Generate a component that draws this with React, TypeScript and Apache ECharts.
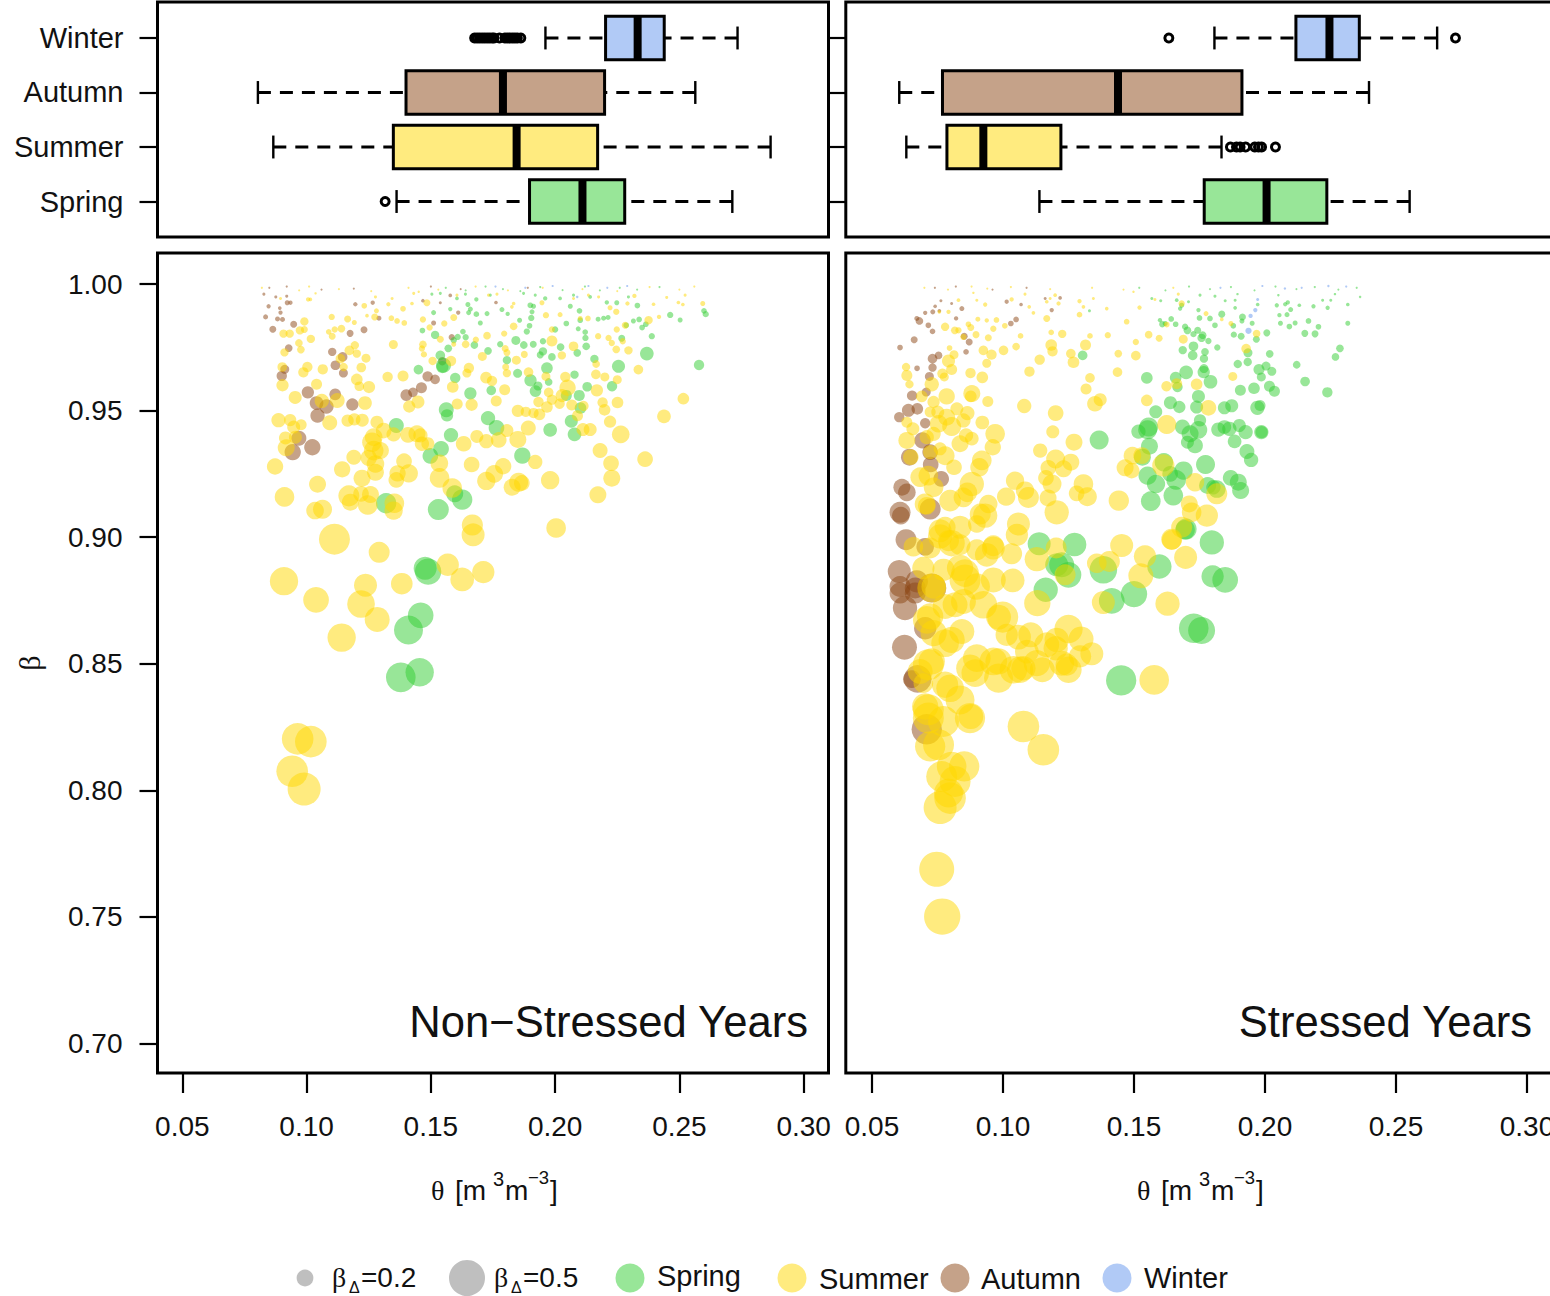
import React, { useEffect, useRef } from "react";
import * as echarts from "echarts";

type Pt = [number, number, number];

const seasons = ["Spring", "Summer", "Autumn", "Winter"];
const thetaTicks = [0.05, 0.1, 0.15, 0.2, 0.25, 0.3];
const betaTicks = [0.7, 0.75, 0.8, 0.85, 0.9, 0.95, 1.0];
const seasonPositions = [1, 2, 3, 4];

// box statistics: position, low whisker, q1, median, q3, high whisker
const leftBoxes = [
  [1, 0.1362, 0.1897, 0.211, 0.228, 0.2713],
  [2, 0.0866, 0.1349, 0.1845, 0.2171, 0.2867],
  [3, 0.0804, 0.14, 0.179, 0.2199, 0.2564],
  [4, 0.1961, 0.2203, 0.2332, 0.2439, 0.2734],
];
const rightBoxes = [
  [1, 0.1139, 0.1768, 0.2006, 0.2236, 0.2552],
  [2, 0.0631, 0.0786, 0.0925, 0.1221, 0.1834],
  [3, 0.0604, 0.0769, 0.1439, 0.1912, 0.2397],
  [4, 0.1807, 0.2118, 0.2246, 0.236, 0.2657],
];
const leftOutliers = [
  [0.1316, 1],
  [0.1676, 4], [0.1686, 4], [0.1696, 4], [0.1706, 4], [0.1716, 4], [0.1726, 4], [0.1736, 4], [0.1746, 4], [0.1754, 4],
  [0.1776, 4], [0.1798, 4], [0.1808, 4], [0.1818, 4], [0.1828, 4], [0.1838, 4], [0.1848, 4], [0.1862, 4],
];
const rightOutliers = [
  [0.1633, 4], [0.2727, 4],
  [0.1868, 2], [0.1891, 2], [0.1905, 2], [0.1926, 2], [0.1961, 2], [0.1975, 2], [0.1987, 2], [0.204, 2],
];

const leftAutumn: Pt[] = [
  [0.0835,0.987,0.056],[0.0864,0.9821,0.083],[0.09,0.9637,0.13],[0.0912,0.9663,0.111],[0.1005,0.9572,0.157],[0.104,0.953,0.176],
  [0.1044,0.948,0.185],[0.108,0.9516,0.185],[0.1115,0.9564,0.148],[0.1184,0.9524,0.157],[0.0969,0.9391,0.194],[0.1023,0.9355,0.213],
  [0.0944,0.9336,0.213],[0.0928,0.9747,0.093],[0.0948,0.9841,0.083],[0.0883,0.9862,0.056],[0.0903,0.986,0.056],[0.0895,0.9887,0.046],
  [0.0892,0.9905,0.037],[0.0847,0.9912,0.046],[0.0922,0.9926,0.056],[0.0935,0.9926,0.046],[0.0876,0.9949,0.028],[0.092,0.9952,0.028],
  [0.0828,0.996,0.028],[0.1103,0.9732,0.102],[0.1116,0.9679,0.12],[0.1145,0.9712,0.12],[0.1148,0.9648,0.111],[0.1175,0.9805,0.083],
  [0.1231,0.9819,0.083],[0.1291,0.9865,0.056],[0.1196,0.992,0.046],[0.1266,0.9926,0.046],[0.1401,0.9561,0.148],[0.1428,0.9572,0.12],
  [0.1462,0.959,0.139],[0.1487,0.9635,0.13],[0.1517,0.9623,0.12],[0.1546,0.9695,0.102],[0.1511,0.9846,0.056],[0.1584,0.979,0.074],
  [0.161,0.9887,0.046],[0.1578,0.9955,0.037],[0.1468,0.9934,0.037],[0.1538,0.9926,0.028],[0.1762,0.9927,0.037],
  [0.085,0.9985,0.016],[0.092,0.999,0.016],[0.106,0.9978,0.016],[0.119,0.9982,0.016],[0.15,0.999,0.016],[0.162,0.998,0.016],[0.189,0.9985,0.016],
];
const leftSpring: Pt[] = [
  [0.1477,0.8877,0.306],[0.1489,0.8864,0.352],[0.1459,0.8691,0.343],[0.141,0.8633,0.389],[0.1379,0.8446,0.398],[0.1455,0.8466,0.38],
  [0.145,0.9662,0.12],[0.1466,0.9816,0.065],[0.1517,0.9799,0.102],[0.1538,0.9718,0.12],[0.1551,0.9679,0.194],[0.1546,0.9672,0.157],
  [0.157,0.9746,0.093],[0.1592,0.9778,0.074],[0.1608,0.9791,0.074],[0.1629,0.9812,0.065],[0.164,0.979,0.074],[0.1675,0.9759,0.093],
  [0.1598,0.9629,0.13],[0.1659,0.9568,0.157],[0.1562,0.9503,0.194],[0.1565,0.9481,0.157],[0.173,0.9736,0.093],[0.1743,0.958,0.12],
  [0.173,0.947,0.185],[0.1764,0.9432,0.204],[0.1361,0.9441,0.194],[0.1581,0.9403,0.185],[0.1541,0.9349,0.204],[0.1498,0.9321,0.204],
  [0.1868,0.9322,0.213],[0.1596,0.9171,0.222],[0.1626,0.9148,0.269],[0.153,0.9109,0.278],[0.132,0.9134,0.269],[0.198,0.9424,0.176],
  [0.2078,0.9406,0.176],[0.2065,0.9458,0.167],[0.2102,0.951,0.148],[0.2097,0.956,0.139],[0.2045,0.956,0.139],[0.2129,0.9594,0.12],
  [0.2078,0.9642,0.102],[0.2229,0.9596,0.13],[0.2255,0.9675,0.167],[0.2158,0.9704,0.102],[0.2369,0.9725,0.176],[0.2579,0.968,0.13],
  [0.2125,0.9754,0.093],[0.2089,0.9728,0.093],[0.2122,0.9787,0.074],[0.2121,0.981,0.065],[0.2268,0.9786,0.083],[0.2389,0.9794,0.074],
  [0.2463,0.9878,0.074],[0.2503,0.9858,0.056],[0.2599,0.9894,0.065],[0.2606,0.9881,0.074],[0.2315,0.9854,0.056],[0.235,0.9828,0.065],
  [0.2365,0.9841,0.065],[0.2338,0.986,0.065],[0.2331,0.9915,0.065],[0.2213,0.9868,0.056],[0.2195,0.9865,0.056],[0.2173,0.9861,0.056],
  [0.2286,0.9837,0.065],[0.2101,0.9857,0.065],[0.2093,0.9823,0.056],[0.2208,0.9927,0.046],[0.2248,0.9926,0.056],[0.2141,0.9949,0.037],
  [0.2295,0.9949,0.028],[0.2045,0.9844,0.065],[0.2,0.982,0.074],[0.2022,0.9751,0.093],[0.1987,0.9712,0.093],[0.1951,0.9734,0.102],
  [0.194,0.972,0.083],[0.1967,0.9668,0.148],[0.1974,0.9613,0.093],[0.1901,0.9619,0.157],[0.1931,0.9597,0.111],[0.1921,0.9577,0.148],
  [0.1912,0.9762,0.083],[0.1874,0.9759,0.093],[0.1842,0.9777,0.111],[0.1886,0.9812,0.074],[0.1897,0.9835,0.065],[0.1857,0.9857,0.056],
  [0.1904,0.9866,0.074],[0.1907,0.989,0.056],[0.1951,0.9774,0.074],[0.1806,0.9699,0.102],[0.1849,0.9647,0.111],[0.1779,0.9762,0.074],
  [0.1809,0.9882,0.046],[0.1786,0.9899,0.056],[0.1726,0.9883,0.056],[0.1699,0.9846,0.056],[0.1683,0.9881,0.065],[0.1659,0.9901,0.056],
  [0.1652,0.9887,0.056],[0.1683,0.9939,0.046],[0.1649,0.9919,0.056],[0.1578,0.9901,0.046],[0.1511,0.9887,0.056],[0.1605,0.9943,0.037],
  [0.1538,0.9963,0.028],[0.1504,0.996,0.028],[0.1639,0.996,0.028],[0.1739,0.9956,0.028],[0.1873,0.9963,0.028],[0.192,0.9956,0.028],
  [0.196,0.9943,0.046],[0.202,0.9943,0.037],[0.2074,0.9956,0.028],[0.19,0.9916,0.065],[0.1913,0.9912,0.056],[0.2061,0.9912,0.056],
  [0.2098,0.9894,0.065],
  [0.156,0.9985,0.016],[0.164,0.9975,0.016],[0.172,0.999,0.016],[0.179,0.998,0.016],[0.186,0.9972,0.016],[0.194,0.9988,0.016],
  [0.203,0.9976,0.016],[0.212,0.999,0.016],[0.218,0.9975,0.016],[0.226,0.9985,0.016],[0.233,0.9978,0.016],[0.242,0.9988,0.016],
];
const leftSummer: Pt[] = [
  [0.1112,0.8992,0.417],[0.1292,0.894,0.278],[0.167,0.9009,0.306],[0.1667,0.9048,0.28],[0.1568,0.8891,0.296],[0.1626,0.8833,0.315],
  [0.1711,0.8862,0.296],[0.1383,0.8816,0.287],[0.0909,0.8826,0.38],[0.1038,0.8752,0.343],[0.1237,0.881,0.306],[0.1219,0.8736,0.37],
  [0.1284,0.8675,0.333],[0.1141,0.8603,0.38],[0.0964,0.8203,0.426],[0.1017,0.8192,0.426],[0.0942,0.8075,0.426],[0.099,0.8005,0.444],
  [0.0873,0.9279,0.213],[0.0911,0.9159,0.259],[0.1044,0.9209,0.222],[0.1034,0.9105,0.231],[0.1064,0.911,0.25],[0.1143,0.9268,0.213],
  [0.119,0.9316,0.194],[0.117,0.9163,0.278],[0.1176,0.9138,0.222],[0.1223,0.9233,0.222],[0.1219,0.9171,0.204],[0.1257,0.9168,0.222],
  [0.1246,0.9127,0.259],[0.1277,0.9256,0.222],[0.1277,0.9289,0.231],[0.125,0.9313,0.213],[0.127,0.9342,0.259],[0.1297,0.9342,0.222],
  [0.1263,0.9375,0.259],[0.131,0.9421,0.204],[0.1283,0.9454,0.167],[0.127,0.9395,0.231],[0.135,0.9406,0.185],[0.1353,0.9134,0.259],
  [0.135,0.9105,0.241],[0.1361,0.9226,0.204],[0.1366,0.9252,0.213],[0.1392,0.93,0.204],[0.1411,0.9252,0.241],[0.1408,0.9404,0.204],
  [0.1444,0.9408,0.222],[0.1458,0.9402,0.185],[0.1464,0.9369,0.185],[0.1488,0.9369,0.167],[0.1534,0.9292,0.231],[0.1535,0.9234,0.259],
  [0.1586,0.9194,0.259],[0.1664,0.9287,0.204],[0.1632,0.9369,0.204],[0.1723,0.9379,0.185],[0.1685,0.9398,0.167],[0.1773,0.9384,0.204],
  [0.1806,0.9421,0.167],[0.185,0.9386,0.222],[0.1892,0.9431,0.194],[0.192,0.9297,0.185],[0.1723,0.9222,0.241],[0.1755,0.925,0.231],
  [0.1791,0.928,0.213],[0.1827,0.9197,0.222],[0.1853,0.9217,0.25],[0.1866,0.9214,0.204],[0.198,0.9225,0.241],[0.2004,0.9036,0.259],
  [0.2172,0.9167,0.222],[0.2228,0.9233,0.222],[0.2225,0.9292,0.204],[0.2181,0.9342,0.194],[0.2264,0.9406,0.231],[0.2362,0.9308,0.204],
  [0.2438,0.9477,0.176],[0.2516,0.9547,0.148],[0.2335,0.9662,0.12],[0.2594,0.9923,0.056],[0.2295,0.9738,0.102],[0.2251,0.9532,0.148],
  [0.2221,0.9456,0.157],[0.2191,0.9532,0.13],[0.2199,0.9503,0.148],[0.225,0.9622,0.111],[0.22,0.9633,0.111],[0.2168,0.958,0.157],
  [0.2164,0.9643,0.12],[0.2165,0.9684,0.093],[0.2141,0.9425,0.167],[0.2112,0.9425,0.167],[0.2114,0.9518,0.13],[0.209,0.948,0.139],
  [0.2067,0.9522,0.139],[0.205,0.959,0.213],[0.2041,0.9633,0.13],[0.2028,0.9559,0.167],[0.2018,0.9527,0.13],[0.1987,0.9543,0.13],
  [0.1974,0.9572,0.12],[0.1967,0.9514,0.148],[0.1933,0.9534,0.13],[0.1937,0.9485,0.148],[0.1913,0.949,0.13],[0.1882,0.9495,0.13],
  [0.185,0.9499,0.157],[0.1763,0.9538,0.139],[0.1664,0.9523,0.157],[0.1606,0.9526,0.139],[0.1797,0.9582,0.139],[0.1746,0.9617,0.13],
  [0.1722,0.963,0.148],[0.1653,0.9668,0.13],[0.1645,0.9648,0.111],[0.1588,0.9593,0.148],[0.1581,0.9696,0.13],[0.1448,0.9534,0.167],
  [0.1413,0.9516,0.157],[0.1388,0.9637,0.139],[0.1326,0.9633,0.13],[0.1349,0.9761,0.111],[0.1251,0.9593,0.157],[0.1235,0.953,0.176],
  [0.1212,0.9596,0.12],[0.1202,0.9623,0.148],[0.122,0.967,0.12],[0.1239,0.9707,0.111],[0.1202,0.9725,0.102],[0.1194,0.9758,0.102],
  [0.1172,0.9738,0.12],[0.1136,0.9705,0.12],[0.1149,0.9672,0.102],[0.1123,0.954,0.194],[0.1093,0.9452,0.194],[0.1165,0.946,0.157],
  [0.1192,0.9465,0.157],[0.1224,0.9462,0.167],[0.1065,0.9663,0.13],[0.104,0.9604,0.139],[0.1003,0.9672,0.13],[0.0987,0.9651,0.13],
  [0.0954,0.9552,0.167],[0.0903,0.96,0.157],[0.0902,0.9672,0.12],[0.0911,0.973,0.102],[0.0969,0.9767,0.093],[0.0977,0.9741,0.093],
  [0.1017,0.9783,0.102],[0.0973,0.9817,0.102],[0.0991,0.982,0.083],[0.0907,0.9804,0.102],[0.0932,0.9804,0.102],[0.0991,0.9852,0.102],
  [0.0887,0.9462,0.185],[0.0934,0.9462,0.157],[0.0948,0.9435,0.167],[0.0978,0.9444,0.139],[0.0915,0.9392,0.167],[0.0918,0.9353,0.222],
  [0.0955,0.9395,0.167],[0.1061,0.9538,0.185],[0.1101,0.987,0.074],[0.114,0.9824,0.093],[0.1089,0.9811,0.065],[0.1113,0.982,0.074],
  [0.1103,0.9794,0.083],[0.1165,0.9862,0.083],[0.1192,0.9848,0.056],[0.1274,0.987,0.083],[0.1281,0.9894,0.056],[0.1232,0.9914,0.065],
  [0.1243,0.9875,0.037],[0.1329,0.992,0.046],[0.1388,0.9902,0.065],[0.1364,0.9854,0.065],[0.1341,0.9865,0.065],[0.1393,0.9846,0.065],
  [0.1468,0.986,0.074],[0.1495,0.9828,0.074],[0.1484,0.9926,0.083],[0.1424,0.9923,0.037],[0.1538,0.9782,0.083],[0.1554,0.9844,0.074],
  [0.1592,0.9868,0.083],[0.1464,0.9745,0.074],[0.1468,0.9761,0.093],[0.1507,0.9696,0.102],[0.1472,0.9722,0.074],[0.1592,0.9762,0.056],
  [0.164,0.9762,0.093],[0.1681,0.978,0.074],[0.1707,0.9714,0.111],[0.1726,0.9796,0.093],[0.1795,0.9804,0.074],[0.1799,0.9745,0.083],
  [0.1806,0.9729,0.083],[0.1844,0.9699,0.111],[0.1801,0.9672,0.083],[0.1806,0.9648,0.102],[0.1876,0.9722,0.083],[0.1893,0.9652,0.12],
  [0.1833,0.9833,0.093],[0.1987,0.9775,0.139],[0.1963,0.9635,0.111],[0.2074,0.9754,0.12],[0.2027,0.9718,0.102],[0.1987,0.982,0.074],
  [0.1947,0.9926,0.056],[0.1963,0.9877,0.074],[0.202,0.9879,0.056],[0.2132,0.9864,0.065],[0.2101,0.9864,0.056],[0.2173,0.9794,0.074],
  [0.2215,0.9787,0.074],[0.2248,0.982,0.074],[0.2282,0.9837,0.083],[0.2228,0.9767,0.074],[0.2246,0.9742,0.093],[0.2272,0.9774,0.074],
  [0.2246,0.989,0.074],[0.2221,0.9906,0.056],[0.2376,0.9857,0.102],[0.2418,0.987,0.046],[0.2291,0.9923,0.046],[0.2319,0.9953,0.046],
  [0.2396,0.992,0.037],[0.2496,0.9927,0.037],[0.2514,0.9919,0.037],[0.2449,0.9947,0.028],[0.2523,0.9956,0.028],[0.1833,0.9923,0.037],
  [0.1826,0.991,0.037],[0.1015,0.9939,0.037],[0.1036,0.9963,0.02],[0.1006,0.9939,0.046],[0.1277,0.9949,0.028],[0.1344,0.9943,0.028],
  [0.0895,0.9943,0.028],[0.1431,0.9963,0.028],[0.1451,0.9969,0.02],[0.1605,0.9956,0.028],[0.1732,0.9956,0.028],[0.1766,0.996,0.028],
  [0.2074,0.9943,0.028],[0.2134,0.9956,0.028],[0.2175,0.9949,0.028],
  [0.082,0.9985,0.016],[0.097,0.9975,0.016],[0.101,0.999,0.016],[0.113,0.998,0.016],[0.126,0.9972,0.016],[0.141,0.9985,0.016],
  [0.153,0.9978,0.016],[0.168,0.999,0.016],[0.181,0.9975,0.016],[0.195,0.9985,0.016],[0.211,0.998,0.016],[0.225,0.9972,0.016],
  [0.238,0.9988,0.016],[0.25,0.9978,0.016],[0.256,0.999,0.016],
];
const leftWinter: Pt[] = [
  [0.176,0.999,0.016],[0.188,0.9985,0.016],[0.199,0.9992,0.016],[0.2089,0.9949,0.02],[0.2134,0.9992,0.016],[0.221,0.9985,0.016],[0.229,0.9992,0.016],
];

const rightAutumn: Pt[] = [
  [0.063,0.899,0.278],[0.0604,0.8864,0.306],[0.0607,0.8805,0.278],[0.0607,0.8779,0.278],[0.0626,0.872,0.324],[0.0665,0.8799,0.278],
  [0.0671,0.8825,0.296],[0.0665,0.8779,0.278],[0.0728,0.8799,0.389],[0.0703,0.864,0.296],[0.0624,0.8565,0.333],[0.0674,0.844,0.37],
  [0.0652,0.8439,0.231],[0.0709,0.8241,0.407],[0.0607,0.9749,0.065],[0.0661,0.978,0.083],[0.0681,0.9854,0.093],[0.0671,0.9864,0.056],
  [0.0703,0.9886,0.046],[0.0732,0.989,0.056],[0.0731,0.9813,0.065],[0.0715,0.9837,0.065],[0.0821,0.9864,0.046],[0.0843,0.9903,0.056],
  [0.0852,0.9794,0.083],[0.0871,0.9771,0.083],[0.0859,0.9732,0.065],[0.0754,0.9718,0.093],[0.0731,0.9705,0.12],[0.0731,0.967,0.102],
  [0.0672,0.9667,0.065],[0.0719,0.9635,0.111],[0.0707,0.9573,0.111],[0.0653,0.9559,0.13],[0.0639,0.9501,0.167],[0.0673,0.9507,0.148],
  [0.0604,0.9474,0.13],[0.0703,0.945,0.13],[0.0693,0.9382,0.213],[0.0643,0.9316,0.222],[0.0722,0.9336,0.204],[0.0724,0.9287,0.204],
  [0.0764,0.923,0.204],[0.0614,0.9197,0.222],[0.0633,0.9177,0.231],[0.0607,0.9098,0.278],[0.061,0.9085,0.231],[0.0722,0.9111,0.278],
  [0.0703,0.8962,0.231],[0.103,0.9844,0.065],[0.105,0.986,0.065],[0.1014,0.993,0.046],[0.1069,0.9919,0.037],[0.1218,0.9945,0.037],
  [0.1186,0.9897,0.046],[0.1161,0.9943,0.028],[0.0804,0.9923,0.028],[0.0763,0.9934,0.028],[0.0741,0.9912,0.037],[0.0757,0.9894,0.037],
  [0.074,0.9985,0.016],[0.082,0.999,0.016],[0.096,0.9978,0.016],[0.109,0.9985,0.016],
];
const rightSpring: Pt[] = [
  [0.1451,0.8434,0.407],[0.1728,0.864,0.398],[0.1758,0.8631,0.361],[0.18,0.8845,0.296],[0.1848,0.8831,0.343],[0.15,0.8775,0.352],
  [0.1415,0.8748,0.343],[0.1597,0.8884,0.324],[0.1383,0.8871,0.37],[0.125,0.8851,0.343],[0.1205,0.8891,0.306],[0.1224,0.8891,0.333],
  [0.1163,0.8792,0.324],[0.1138,0.8974,0.306],[0.1273,0.8971,0.315],[0.1797,0.8979,0.324],[0.1695,0.9029,0.259],[0.1304,0.9718,0.12],
  [0.1549,0.9629,0.148],[0.1659,0.963,0.148],[0.1666,0.9593,0.13],[0.1699,0.9651,0.176],[0.1766,0.9652,0.157],[0.1767,0.9666,0.111],
  [0.1792,0.9614,0.176],[0.1771,0.9732,0.093],[0.1758,0.9787,0.102],[0.1784,0.9775,0.074],[0.1727,0.9754,0.12],[0.1724,0.9718,0.12],
  [0.1686,0.9739,0.102],[0.1767,0.9705,0.102],[0.1818,0.9749,0.074],[0.1746,0.9556,0.167],[0.1639,0.9531,0.167],[0.1673,0.9514,0.157],
  [0.1739,0.9514,0.167],[0.1845,0.9511,0.167],[0.1873,0.9519,0.167],[0.1583,0.9495,0.167],[0.1556,0.9435,0.25],[0.1517,0.9417,0.185],
  [0.1552,0.9424,0.25],[0.1685,0.9435,0.194],[0.1752,0.9461,0.157],[0.1746,0.9424,0.231],[0.1714,0.9408,0.222],[0.1704,0.9375,0.167],
  [0.1733,0.9362,0.204],[0.1822,0.9425,0.185],[0.1845,0.9435,0.176],[0.1902,0.9441,0.167],[0.1926,0.9415,0.185],[0.1864,0.9428,0.185],
  [0.1884,0.9378,0.176],[0.1986,0.9415,0.185],[0.1987,0.9415,0.157],[0.1931,0.9338,0.194],[0.1947,0.9305,0.185],[0.1981,0.952,0.139],
  [0.1971,0.9511,0.185],[0.2017,0.9596,0.139],[0.2036,0.9576,0.139],[0.1958,0.9588,0.148],[0.1906,0.958,0.139],[0.1986,0.9633,0.111],
  [0.1977,0.9662,0.139],[0.2004,0.9676,0.111],[0.2026,0.9655,0.111],[0.1896,0.9684,0.102],[0.1934,0.9692,0.102],[0.2018,0.9724,0.093],
  [0.1935,0.9728,0.111],[0.1967,0.9782,0.083],[0.2007,0.9807,0.083],[0.1909,0.9794,0.083],[0.1881,0.98,0.074],[0.1879,0.9835,0.065],
  [0.1912,0.9854,0.056],[0.1951,0.9845,0.056],[0.1914,0.987,0.083],[0.1835,0.9881,0.083],[0.2059,0.9845,0.056],[0.2093,0.9832,0.065],
  [0.2115,0.9846,0.056],[0.2166,0.9854,0.065],[0.2204,0.9831,0.065],[0.2152,0.9805,0.083],[0.2191,0.9803,0.083],[0.2121,0.9681,0.093],
  [0.2153,0.9615,0.12],[0.2238,0.9572,0.13],[0.2269,0.9712,0.093],[0.2286,0.9746,0.093],[0.2316,0.9845,0.056],[0.2084,0.9879,0.056],
  [0.2055,0.9877,0.046],[0.2098,0.9899,0.056],[0.2045,0.9916,0.046],[0.2077,0.992,0.046],[0.2087,0.9927,0.046],[0.2185,0.9912,0.046],
  [0.2131,0.9916,0.037],[0.2239,0.9906,0.046],[0.2316,0.9919,0.037],[0.222,0.9936,0.028],[0.2251,0.9936,0.028],[0.2267,0.996,0.02],
  [0.1972,0.9919,0.037],[0.1886,0.9906,0.037],[0.1886,0.9936,0.028],[0.1848,0.9934,0.028],[0.1809,0.9952,0.028],[0.1752,0.9956,0.028],
  [0.179,0.9864,0.065],[0.1809,0.9837,0.065],[0.175,0.9866,0.065],[0.1746,0.9897,0.046],[0.1695,0.9831,0.074],[0.1704,0.9817,0.093],
  [0.1727,0.9802,0.074],[0.1743,0.9817,0.083],[0.1762,0.9798,0.093],[0.1642,0.9862,0.065],[0.1659,0.9841,0.065],[0.1608,0.9841,0.074],
  [0.1619,0.9844,0.056],[0.1599,0.9857,0.046],[0.133,0.9894,0.028],[0.1602,0.9934,0.028],[0.1568,0.9943,0.028],[0.1663,0.9936,0.037],
  [0.1708,0.993,0.028],[0.1676,0.9903,0.046],[0.1682,0.9916,0.056],[0.1895,0.996,0.02],[0.2051,0.9956,0.02],[0.2363,0.9949,0.02],
  [0.1559,0.9359,0.222],[0.1532,0.9316,0.222],[0.1552,0.9243,0.241],[0.1584,0.921,0.241],[0.1661,0.9226,0.259],[0.165,0.9164,0.259],
  [0.1638,0.925,0.204],[0.1689,0.9263,0.241],[0.1614,0.9296,0.241],[0.1773,0.9287,0.25],[0.1564,0.9142,0.259],[0.1699,0.9032,0.278],
  [0.1869,0.9234,0.204],[0.1898,0.9217,0.222],[0.1907,0.9184,0.222],[0.1781,0.9204,0.222],[0.1816,0.919,0.231],[0.1803,0.9197,0.185],
  [0.1367,0.9384,0.25],
  [0.152,0.9985,0.016],[0.162,0.9975,0.016],[0.171,0.999,0.016],[0.179,0.998,0.016],[0.187,0.9988,0.016],[0.196,0.9975,0.016],
  [0.204,0.999,0.016],[0.212,0.998,0.016],[0.219,0.9988,0.016],[0.228,0.9978,0.016],[0.235,0.9985,0.016],
];
const rightSummer: Pt[] = [
  [0.0768,0.7501,0.49],[0.0747,0.7688,0.472],[0.076,0.7932,0.444],[0.0798,0.7969,0.426],[0.0792,0.7989,0.389],[0.0766,0.8054,0.417],
  [0.0817,0.8035,0.417],[0.0852,0.8094,0.407],[0.0804,0.8094,0.398],[0.0722,0.8173,0.407],[0.0754,0.818,0.417],[0.0773,0.8272,0.417],
  [0.0715,0.8318,0.417],[0.0703,0.8331,0.352],[0.0715,0.8285,0.417],[0.0874,0.8285,0.407],[0.0877,0.8291,0.333],[0.0836,0.8357,0.389],
  [0.0798,0.8403,0.37],[0.0779,0.8417,0.352],[0.0696,0.8423,0.259],[0.0715,0.8496,0.417],[0.0684,0.8469,0.333],[0.0728,0.8509,0.352],
  [0.0894,0.8463,0.37],[0.09,0.8522,0.37],[0.0874,0.8482,0.37],[0.0963,0.8509,0.37],[0.0983,0.8443,0.389],[0.0983,0.8509,0.352],
  [0.104,0.8476,0.37],[0.1078,0.8482,0.324],[0.1065,0.8476,0.352],[0.115,0.8476,0.333],[0.1129,0.8502,0.352],[0.1091,0.8548,0.315],
  [0.1167,0.8575,0.333],[0.1059,0.8605,0.333],[0.1014,0.8614,0.296],[0.1106,0.8614,0.333],[0.1201,0.8561,0.324],[0.1224,0.8502,0.333],
  [0.125,0.8476,0.352],[0.1243,0.8496,0.296],[0.1294,0.8529,0.296],[0.1339,0.8539,0.306],[0.1298,0.8598,0.333],[0.125,0.8637,0.38],
  [0.1205,0.8594,0.324],[0.0779,0.8581,0.37],[0.0804,0.8594,0.352],[0.0843,0.8627,0.333],[0.0735,0.8621,0.352],[0.0709,0.8673,0.37],
  [0.0722,0.8687,0.352],[0.0925,0.8733,0.37],[0.0817,0.8733,0.333],[0.0849,0.8746,0.333],[0.0779,0.8726,0.333],[0.0999,0.8684,0.417],
  [0.0983,0.8684,0.333],[0.1037,0.8829,0.315],[0.0963,0.8831,0.333],[0.09,0.8805,0.352],[0.0855,0.8831,0.417],[0.0855,0.8858,0.37],
  [0.0836,0.8878,0.352],[0.0773,0.8871,0.296],[0.0696,0.8878,0.296],[0.0728,0.8799,0.389],[0.0735,0.8805,0.324],[0.0804,0.8976,0.352],
  [0.0836,0.897,0.278],[0.076,0.9003,0.324],[0.0722,0.8957,0.278],[0.09,0.895,0.278],[0.0938,0.893,0.315],[0.0963,0.8957,0.306],
  [0.1033,0.8934,0.278],[0.1053,0.9009,0.296],[0.1129,0.8913,0.324],[0.1203,0.8957,0.278],[0.1131,0.8739,0.352],[0.1237,0.8851,0.278],
  [0.1358,0.8897,0.259],[0.1406,0.8904,0.278],[0.1453,0.8967,0.306],[0.1542,0.8924,0.296],[0.1526,0.8847,0.333],[0.1697,0.892,0.306],
  [0.1644,0.8992,0.278],[0.1628,0.8737,0.324],[0.1383,0.8742,0.306],[0.1577,0.8436,0.398],[0.1078,0.8252,0.426],[0.1154,0.816,0.426],
  [0.063,0.9672,0.102],[0.0633,0.9639,0.139],[0.0643,0.9604,0.102],[0.0728,0.9604,0.185],[0.069,0.9556,0.148],[0.0785,0.9556,0.213],
  [0.0735,0.9534,0.157],[0.0751,0.9494,0.167],[0.0824,0.9507,0.167],[0.0864,0.949,0.185],[0.0785,0.9474,0.222],[0.0722,0.9494,0.139],
  [0.0849,0.9461,0.185],[0.0804,0.9437,0.25],[0.0754,0.9448,0.231],[0.0633,0.9454,0.139],[0.0656,0.9428,0.167],[0.0735,0.9408,0.185],
  [0.0709,0.9395,0.185],[0.0633,0.9382,0.222],[0.0859,0.9402,0.185],[0.0836,0.9369,0.222],[0.0881,0.9389,0.176],[0.0921,0.9453,0.176],
  [0.097,0.9408,0.259],[0.0961,0.9355,0.213],[0.0722,0.9336,0.185],[0.0779,0.9322,0.25],[0.076,0.9349,0.167],[0.0919,0.9303,0.259],
  [0.091,0.9276,0.241],[0.0813,0.9276,0.204],[0.0648,0.9316,0.204],[0.0684,0.9237,0.259],[0.0715,0.9243,0.259],[0.0735,0.9197,0.259],
  [0.0881,0.921,0.324],[0.0864,0.9177,0.259],[0.0798,0.9144,0.287],[0.0849,0.9157,0.259],[0.0703,0.9131,0.278],[0.0709,0.9124,0.231],
  [0.0944,0.9131,0.241],[0.0913,0.9091,0.278],[0.0932,0.9085,0.324],[0.09,0.9052,0.231],[0.1059,0.9052,0.306],[0.076,0.9025,0.306],
  [0.0779,0.9039,0.278],[0.0836,0.9039,0.306],[0.0658,0.8962,0.259],[0.0792,0.8986,0.278],[0.0963,0.8966,0.278],[0.0881,0.9567,0.222],
  [0.0877,0.9556,0.148],[0.0942,0.9536,0.139],[0.1081,0.9518,0.185],[0.1201,0.949,0.204],[0.119,0.9416,0.167],[0.1271,0.9375,0.222],
  [0.1142,0.9342,0.185],[0.1201,0.9309,0.25],[0.1259,0.9296,0.222],[0.1231,0.927,0.222],[0.1173,0.9274,0.204],[0.1164,0.9234,0.204],
  [0.1187,0.921,0.25],[0.1046,0.9223,0.241],[0.1084,0.9184,0.241],[0.1097,0.9157,0.278],[0.1012,0.916,0.241],[0.1172,0.9155,0.222],
  [0.1307,0.921,0.259],[0.1281,0.9173,0.204],[0.1322,0.916,0.25],[0.1205,0.9098,0.324],[0.1442,0.9144,0.269],[0.1494,0.9322,0.231],
  [0.1466,0.9274,0.222],[0.1491,0.9263,0.204],[0.153,0.9322,0.222],[0.1612,0.9283,0.296],[0.1625,0.9445,0.25],[0.1549,0.954,0.148],
  [0.1624,0.9596,0.13],[0.1663,0.9606,0.139],[0.1739,0.9604,0.148],[0.1877,0.9635,0.111],[0.1784,0.9511,0.204],[0.1733,0.9217,0.241],
  [0.1711,0.9131,0.222],[0.172,0.9098,0.259],[0.1778,0.9085,0.296],[0.1816,0.9171,0.278],[0.1682,0.9039,0.278],[0.1644,0.8989,0.259],
  [0.1317,0.9585,0.139],[0.1351,0.9527,0.204],[0.1371,0.9543,0.167],[0.1332,0.9629,0.12],[0.1437,0.9652,0.12],[0.1507,0.9717,0.12],
  [0.144,0.9725,0.093],[0.1507,0.9771,0.074],[0.1556,0.98,0.093],[0.1596,0.9786,0.083],[0.1688,0.9782,0.111],[0.14,0.9798,0.074],
  [0.1332,0.9795,0.065],[0.1315,0.9759,0.139],[0.1269,0.9691,0.148],[0.1259,0.9725,0.12],[0.114,0.9701,0.13],[0.1101,0.9654,0.13],
  [0.1189,0.9734,0.13],[0.1184,0.9759,0.148],[0.1226,0.9803,0.102],[0.1184,0.9809,0.065],[0.1067,0.9795,0.065],[0.105,0.9753,0.093],
  [0.1002,0.9738,0.12],[0.0956,0.9721,0.13],[0.0925,0.9738,0.12],[0.0938,0.9687,0.111],[0.0921,0.9631,0.148],[0.0876,0.9648,0.13],
  [0.0944,0.9788,0.083],[0.0897,0.98,0.083],[0.0963,0.9823,0.074],[0.1007,0.9835,0.065],[0.0975,0.9858,0.065],[0.0938,0.9856,0.046],
  [0.0904,0.9861,0.056],[0.0868,0.9841,0.065],[0.0877,0.9828,0.083],[0.0816,0.9817,0.093],[0.0779,0.9831,0.102],[0.083,0.9817,0.074],
  [0.0796,0.9747,0.065],[0.0849,0.9791,0.074],[0.0813,0.9721,0.111],[0.0792,0.9696,0.167],[0.0804,0.9662,0.139],[0.0769,0.9646,0.13],
  [0.0776,0.9633,0.111],[0.1167,0.9864,0.083],[0.1292,0.9879,0.065],[0.1292,0.9932,0.046],[0.1345,0.9943,0.028],[0.1396,0.9903,0.037],
  [0.1472,0.9851,0.065],[0.1521,0.9907,0.046],[0.1307,0.991,0.037],[0.1033,0.9939,0.046],[0.1116,0.9886,0.037],[0.11,0.991,0.037],
  [0.1084,0.996,0.028],[0.1199,0.9956,0.037],[0.1167,0.993,0.037],[0.1212,0.9923,0.046],[0.118,0.9943,0.028],[0.0932,0.9919,0.046],
  [0.09,0.9936,0.028],[0.0887,0.9965,0.02],[0.083,0.9936,0.037],[0.0792,0.989,0.046],[0.0757,0.989,0.037],[0.1625,0.984,0.065],
  [0.187,0.9844,0.056],[0.1968,0.9804,0.093],[0.1928,0.9745,0.12],[0.1775,0.9883,0.056],[0.1682,0.9923,0.074],[0.1669,0.996,0.028],
  [0.1835,0.986,0.037],[0.158,0.9939,0.028],[0.1498,0.9969,0.02],
  [0.07,0.9985,0.016],[0.079,0.9978,0.016],[0.088,0.999,0.016],[0.094,0.9982,0.016],[0.103,0.9988,0.016],[0.118,0.998,0.016],
  [0.134,0.9985,0.016],[0.146,0.9978,0.016],[0.165,0.9985,0.016],
];
const rightWinter: Pt[] = [
  [0.1937,0.9815,0.074],[0.1963,0.9897,0.046],[0.1945,0.9874,0.046],[0.1972,0.9939,0.028],[0.2242,0.9992,0.02],[0.2076,0.9982,0.02],
  [0.183,0.9985,0.016],[0.199,0.9992,0.016],[0.214,0.9985,0.016],[0.231,0.999,0.016],
];

const betaDeltaLegend = [0.2, 0.5];
const seasonColors: Record<string, string> = {
  Spring: "#32cd32",
  Summer: "#ffd700",
  Autumn: "#8b4513",
  Winter: "#6495ed",
};
const SANS = "'Liberation Sans', Arial, sans-serif";
const SERIF = "'Liberation Serif', 'DejaVu Serif', serif";
const FS = 28;

const leftGrid = { left: 157.5, width: 671 };
const rightGrid = { left: 845.8, width: 707.4 };
const boxGridV = { top: 2, height: 235 };
const mainGridV = { top: 253, height: 820 };
const gridStyle = { show: true, borderColor: "#000", borderWidth: 3, backgroundColor: "transparent" };

const renderBox = (params: any, api: any) => {
  const pos = api.value(0);
  const p = (v: number) => api.coord([v, pos]);
  const lo = p(api.value(1));
  const q1 = p(api.value(2));
  const med = p(api.value(3));
  const q3 = p(api.value(4));
  const hi = p(api.value(5));
  const unit = api.size([0, 1])[1];
  const halfBox = 0.4 * unit;
  const halfCap = 0.21 * unit;
  const y = lo[1];
  const line = (x1: number, x2: number, y1: number, y2: number, lineWidth: number, lineDash?: number[]) => ({
    type: "line",
    shape: { x1, y1, x2, y2 },
    style: { stroke: "#000", fill: "none", lineWidth, lineDash },
  });
  return {
    type: "group",
    children: [
      line(lo[0], q1[0], y, y, 3, [13, 9]),
      line(hi[0], q3[0], y, y, 3, [13, 9]),
      line(lo[0], lo[0], y - halfCap, y + halfCap, 2.4),
      line(hi[0], hi[0], y - halfCap, y + halfCap, 2.4),
      {
        type: "rect",
        shape: { x: q1[0], y: y - halfBox, width: q3[0] - q1[0], height: 2 * halfBox },
        style: {
          fill: echarts.color.modifyAlpha(seasonColors[seasons[pos - 1]], 0.5),
          stroke: "#000",
          lineWidth: 3,
        },
      },
      line(med[0], med[0], y - halfBox, y + halfBox, 8),
    ],
  };
};

const boxSeries = (data: number[][], axis: number) => ({
  type: "custom",
  name: "box",
  xAxisIndex: axis,
  yAxisIndex: axis,
  coordinateSystem: "cartesian2d",
  renderItem: renderBox,
  encode: { x: [1, 2, 3, 4, 5], y: 0 },
  data,
  silent: true,
});
const outlierSeries = (data: number[][], axis: number) => ({
  type: "scatter",
  name: "outliers",
  xAxisIndex: axis,
  yAxisIndex: axis,
  data,
  symbol: "circle",
  symbolSize: 8,
  itemStyle: { color: "rgba(0,0,0,0)", borderColor: "#000", borderWidth: 3, opacity: 1 },
  silent: true,
});
const bubbleSeries = (name: string, data: Pt[], axis: number) => ({
  type: "scatter",
  name,
  xAxisIndex: axis,
  yAxisIndex: axis,
  data,
  symbol: "circle",
  symbolSize: (v: number[]) => v[2] * 72 + 1,
  itemStyle: { color: seasonColors[name], opacity: 0.5 },
  silent: true,
});

const thetaAxis = (gridIndex: number, showLabels: boolean) => ({
  type: "value",
  gridIndex,
  min: 0.04,
  max: 0.31,
  show: showLabels,
  position: "bottom",
  splitLine: { show: false },
  axisLine: { show: false },
  axisTick: { show: true, length: 20, customValues: thetaTicks, lineStyle: { color: "#000", width: 2.2 } },
  axisLabel: {
    show: true,
    customValues: thetaTicks,
    margin: 39,
    color: "#111",
    fontFamily: SANS,
    fontSize: FS,
    formatter: (v: number) => v.toFixed(2),
  },
});

const seasonAxis = (gridIndex: number, labels: boolean) => ({
  type: "value",
  gridIndex,
  min: 0.349,
  max: 4.66,
  splitLine: { show: false },
  axisLine: { show: false },
  axisTick: {
    show: true,
    length: labels ? 18 : 16,
    customValues: seasonPositions,
    lineStyle: { color: "#000", width: 2.2 },
  },
  axisLabel: {
    show: labels,
    customValues: seasonPositions,
    margin: 34,
    color: "#111",
    fontFamily: SANS,
    fontSize: 29,
    formatter: (v: number) => seasons[v - 1],
  },
});

const betaAxis = (gridIndex: number, labels: boolean) => ({
  type: "value",
  gridIndex,
  min: 0.6883,
  max: 1.01225,
  show: labels,
  name: labels ? "β" : "",
  nameLocation: "middle",
  nameRotate: 90,
  nameGap: 113,
  nameTextStyle: { fontFamily: SERIF, fontSize: 30, color: "#111" },
  splitLine: { show: false },
  axisLine: { show: false },
  axisTick: { show: true, length: 18, customValues: betaTicks, lineStyle: { color: "#000", width: 2.2 } },
  axisLabel: {
    show: true,
    customValues: betaTicks,
    margin: 35,
    color: "#111",
    fontFamily: SANS,
    fontSize: FS,
    formatter: (v: number) => v.toFixed(2),
  },
});

const txt = (x: number, y: number, text: string, fontSize = FS, fontFamily = SANS, align = "left") => ({
  type: "text",
  x,
  y,
  silent: true,
  style: { text, fontSize, fontFamily, fill: "#111", align, verticalAlign: "middle" },
});

const thetaLabel = (x: number) => [
  txt(x, 1190, "θ", FS, SERIF),
  txt(x + 24, 1190, "[m"),
  txt(x + 62, 1179, "3", 20),
  txt(x + 74, 1190, "m"),
  txt(x + 97, 1177, "−3", 18.5),
  txt(x + 119, 1190, "]"),
];

const dot = (cx: number, r: number, color: string) => ({
  type: "circle",
  shape: { cx, cy: 1278, r },
  silent: true,
  style: { fill: echarts.color.modifyAlpha(color, 0.5) },
});

const legendGraphics = [
  dot(305, betaDeltaLegend[0] * 42, "#808080"),
  txt(332, 1277, "β", FS, SERIF),
  txt(349, 1287, "Δ", 16, SANS),
  txt(361, 1277, "=" + betaDeltaLegend[0].toFixed(1)),
  dot(467, betaDeltaLegend[1] * 36, "#808080"),
  txt(494, 1277, "β", FS, SERIF),
  txt(511, 1287, "Δ", 16, SANS),
  txt(523, 1277, "=" + betaDeltaLegend[1].toFixed(1)),
  dot(630, 14.5, seasonColors.Spring),
  txt(657, 1276, "Spring", 29),
  dot(792, 14.5, seasonColors.Summer),
  txt(819, 1279, "Summer", 29),
  dot(955, 14.5, seasonColors.Autumn),
  txt(981, 1279, "Autumn", 29),
  dot(1117, 14.5, seasonColors.Winter),
  txt(1144, 1278, "Winter", 29),
];

const option: any = {
  animation: false,
  backgroundColor: "#fff",
  grid: [
    { ...leftGrid, ...boxGridV, ...gridStyle },
    { ...rightGrid, ...boxGridV, ...gridStyle },
    { ...leftGrid, ...mainGridV, ...gridStyle },
    { ...rightGrid, ...mainGridV, ...gridStyle },
  ],
  xAxis: [thetaAxis(0, false), thetaAxis(1, false), thetaAxis(2, true), thetaAxis(3, true)],
  yAxis: [seasonAxis(0, true), seasonAxis(1, false), betaAxis(2, true), { ...betaAxis(3, false), show: false }],
  series: [
    boxSeries(leftBoxes, 0),
    outlierSeries(leftOutliers, 0),
    boxSeries(rightBoxes, 1),
    outlierSeries(rightOutliers, 1),
    bubbleSeries("Autumn", leftAutumn, 2),
    bubbleSeries("Spring", leftSpring, 2),
    bubbleSeries("Summer", leftSummer, 2),
    bubbleSeries("Winter", leftWinter, 2),
    bubbleSeries("Autumn", rightAutumn, 3),
    bubbleSeries("Spring", rightSpring, 3),
    bubbleSeries("Summer", rightSummer, 3),
    bubbleSeries("Winter", rightWinter, 3),
  ],
  graphic: [
    txt(808, 1022, "Non−Stressed Years", 43.6, SANS, "right"),
    txt(1532, 1022, "Stressed Years", 43.6, SANS, "right"),
    ...thetaLabel(431),
    ...thetaLabel(1137),
    ...legendGraphics,
  ],
};

export default function App() {
  const ref = useRef<HTMLDivElement>(null);
  useEffect(() => {
    document.body.style.margin = "0";
    document.documentElement.style.overflow = "hidden";
    document.body.style.overflow = "hidden";
    const chart = echarts.init(ref.current!, undefined, { renderer: "svg" });
    chart.setOption(option);
    return () => chart.dispose();
  }, []);
  // the right-hand panels run past the page's right edge, as in the reference
  return <div ref={ref} style={{ width: 1600, height: 1296 }} />;
}
